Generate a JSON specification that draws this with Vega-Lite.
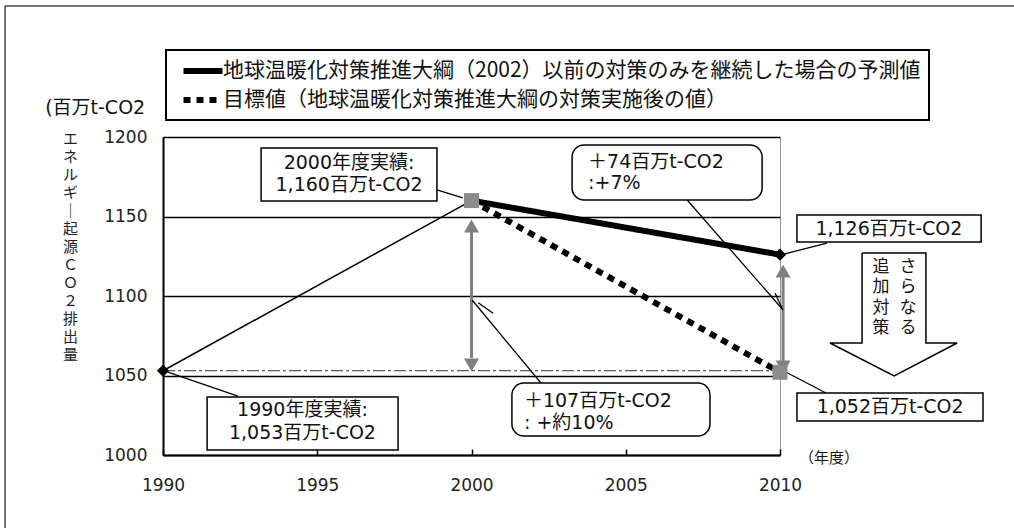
{
  "$schema": "https://vega.github.io/schema/vega-lite/v6.json",
  "width": 617,
  "height": 318,
  "autosize": "none",
  "padding": {"left": 163, "top": 137, "right": 234, "bottom": 73},
  "background": "white",
  "config": {
    "view": {"stroke": "#999999", "strokeWidth": 1},
    "font": "DejaVu Sans, Noto Sans CJK JP",
    "text": {"font": "DejaVu Sans, Noto Sans CJK JP", "color": "#111111"},
    "legend": {"strokeWidth": 2}
  },
  "encoding": {
    "x": {
      "field": "year", "type": "quantitative",
      "scale": {"domain": [1990, 2010], "nice": false, "zero": false},
      "axis": {
        "values": [1990, 1995, 2000, 2005, 2010], "format": "d", "title": null,
        "grid": false, "domainColor": "black", "domainWidth": 2,
        "ticks": true, "tickSize": -6, "tickColor": "black", "tickWidth": 1.5,
        "labelFont": "DejaVu Sans", "labelFontSize": 17, "labelColor": "#222222",
        "labelPadding": 28, "labelFlush": false, "labelOverlap": false
      }
    },
    "y": {
      "field": "value", "type": "quantitative",
      "scale": {"domain": [1000, 1200], "nice": false, "zero": false},
      "axis": {
        "values": [1000, 1050, 1100, 1150, 1200], "format": "d",
        "title": ["エ", "ネ", "ル", "ギ", "｜", "起", "源", "Ｃ", "Ｏ", "２", "排", "出", "量"],
        "titleAngle": 0, "titleAlign": "center", "titleBaseline": "top",
        "titleX": -93, "titleY": -6, "titleLineHeight": 18, "titleFontSize": 15,
        "titleFont": "Noto Sans CJK JP", "titleFontWeight": "normal", "titleColor": "#222222",
        "grid": true, "gridColor": "black", "gridWidth": 1.5,
        "domainColor": "black", "domainWidth": 2, "ticks": false,
        "labelFont": "DejaVu Sans", "labelFontSize": 17, "labelColor": "#222222",
        "labelPadding": 16, "labelFlush": false, "labelOverlap": false
      }
    }
  },
  "layer": [
    {
      "description": "page frame (left and top edges)",
      "data": {"values": [
        {"year": 1984.88, "year2": 1984.88, "value": 954.09, "value2": 1282.39},
        {"year": 1984.88, "year2": 2017.59, "value": 1282.39, "value2": 1282.39}
      ]},
      "mark": {"type": "rule", "color": "#444444", "strokeWidth": 1.5},
      "encoding": {"x2": {"field": "year2"}, "y2": {"field": "value2"}}
    },
    {
      "description": "1990 level reference line",
      "data": {"values": [{"year": 1990, "year2": 2010, "value": 1053}]},
      "mark": {"type": "rule", "color": "#333333", "strokeWidth": 1, "strokeDash": [12, 3, 3, 3]},
      "encoding": {"x2": {"field": "year2"}}
    },
    {
      "description": "1990 to 2000 actual",
      "data": {"values": [{"year": 1990, "value": 1053}, {"year": 2000, "value": 1160}]},
      "mark": {"type": "line", "color": "black", "strokeWidth": 1.5},
      "encoding": {}
    },
    {
      "description": "projection and target series",
      "data": {"values": [
        {"series": "地球温暖化対策推進大綱（2002）以前の対策のみを継続した場合の予測値", "year": 2000, "value": 1160},
        {"series": "地球温暖化対策推進大綱（2002）以前の対策のみを継続した場合の予測値", "year": 2010, "value": 1126},
        {"series": "目標値（地球温暖化対策推進大綱の対策実施後の値）", "year": 2000, "value": 1160},
        {"series": "目標値（地球温暖化対策推進大綱の対策実施後の値）", "year": 2010, "value": 1052}
      ]},
      "mark": {"type": "line", "strokeWidth": 6, "strokeCap": "butt"},
      "encoding": {
        "color": {
          "field": "series", "type": "nominal",
          "scale": {
            "domain": ["地球温暖化対策推進大綱（2002）以前の対策のみを継続した場合の予測値", "目標値（地球温暖化対策推進大綱の対策実施後の値）"],
            "range": ["black", "black"]
          },
          "legend": {
            "title": null, "orient": "none", "legendX": 3, "legendY": -87,
            "padding": 8, "strokeColor": "black", "symbolOffset": 16, "labelOffset": 7,
            "symbolType": "M-2,0H2", "symbolSize": 380, "symbolStrokeWidth": 6,
            "labelFont": "Noto Sans CJK JP", "labelFontSize": 21, "labelColor": "#111111",
            "labelLimit": 0, "rowPadding": 4
          }
        },
        "strokeDash": {
          "field": "series", "type": "nominal",
          "scale": {
            "domain": ["地球温暖化対策推進大綱（2002）以前の対策のみを継続した場合の予測値", "目標値（地球温暖化対策推進大綱の対策実施後の値）"],
            "range": [[1, 0], [7, 6]]
          },
          "legend": {
            "title": null, "orient": "none", "legendX": 3, "legendY": -87,
            "padding": 8, "strokeColor": "black", "symbolOffset": 16, "labelOffset": 7,
            "symbolType": "M-2,0H2", "symbolSize": 380, "symbolStrokeWidth": 6,
            "labelFont": "Noto Sans CJK JP", "labelFontSize": 21, "labelColor": "#111111",
            "labelLimit": 0, "rowPadding": 4
          }
        }
      }
    },
    {
      "description": "difference arrows: shafts",
      "data": {"values": [
        {"year": 2000, "value": 1061.01, "value2": 1140.25},
        {"year": 2010.1, "value": 1058.49, "value2": 1111.95}
      ]},
      "mark": {"type": "rule", "color": "#808080", "strokeWidth": 3},
      "encoding": {"y2": {"field": "value2"}}
    },
    {
      "description": "difference arrows: upper heads",
      "data": {"values": [{"year": 2000, "value": 1144.03}, {"year": 2010.1, "value": 1115.72}]},
      "mark": {"type": "point", "shape": "triangle-up", "size": 225, "filled": true, "color": "#808080", "opacity": 1},
      "encoding": {}
    },
    {
      "description": "difference arrows: lower heads",
      "data": {"values": [{"year": 2000, "value": 1056.6}, {"year": 2010.1, "value": 1055.35}]},
      "mark": {"type": "point", "shape": "triangle-down", "size": 225, "filled": true, "color": "#808080", "opacity": 1},
      "encoding": {}
    },
    {
      "description": "callout leader lines",
      "data": {"values": [
        {"year": 1998.88, "value": 1166.67, "year2": 1999.72, "value2": 1161.64},
        {"year": 1992.43, "value": 1037.1, "year2": 1990.06, "value2": 1052.8},
        {"year": 2002.25, "value": 1045.28, "year2": 2000.02, "value2": 1097.48},
        {"year": 2000.22, "value": 1095.8, "year2": 2000.7, "value2": 1089.1},
        {"year": 2006.99, "value": 1160.38, "year2": 2010.1, "value2": 1091.19},
        {"year": 2009.84, "value": 1101.9, "year2": 2010.06, "value2": 1092.5},
        {"year": 2011.52, "value": 1133.33, "year2": 2010.03, "value2": 1125.79},
        {"year": 2011.49, "value": 1038.99, "year2": 2010.0, "value2": 1054.09}
      ]},
      "mark": {"type": "rule", "color": "black", "strokeWidth": 1.3},
      "encoding": {"x2": {"field": "year2"}, "y2": {"field": "value2"}}
    },
    {
      "description": "square callout boxes",
      "data": {"values": [
        {"year": 1993.18, "year2": 1998.88, "value": 1159.75, "value2": 1193.08},
        {"year": 1991.43, "year2": 1997.62, "value": 1003.14, "value2": 1036.48},
        {"year": 2010.55, "year2": 2016.52, "value": 1133.96, "value2": 1150.94},
        {"year": 2010.55, "year2": 2016.58, "value": 1021.38, "value2": 1038.99}
      ]},
      "mark": {"type": "rect", "fill": "white", "stroke": "black", "strokeWidth": 1.5},
      "encoding": {"x2": {"field": "year2"}, "y2": {"field": "value2"}}
    },
    {
      "description": "rounded callout boxes",
      "data": {"values": [
        {"year": 2001.31, "year2": 2007.73, "value": 1011.95, "value2": 1045.28},
        {"year": 2003.26, "year2": 2009.42, "value": 1160.38, "value2": 1194.97}
      ]},
      "mark": {"type": "rect", "fill": "white", "stroke": "black", "strokeWidth": 1.5, "cornerRadius": 12},
      "encoding": {"x2": {"field": "year2"}, "y2": {"field": "value2"}}
    },
    {
      "description": "centred callout labels, one row per line",
      "data": {"values": [
        {"year": 1996.03, "value": 1183.65, "label": "2000年度実績:"},
        {"year": 1996.03, "value": 1169.81, "label": "1,160百万t-CO2"},
        {"year": 1994.52, "value": 1028.3, "label": "1990年度実績:"},
        {"year": 1994.52, "value": 1013.84, "label": "1,053百万t-CO2"},
        {"year": 2013.53, "value": 1142.45, "label": "1,126百万t-CO2"},
        {"year": 2013.57, "value": 1030.19, "label": "1,052百万t-CO2"}
      ]},
      "mark": {"type": "text", "align": "center", "baseline": "middle", "fontSize": 19},
      "encoding": {"text": {"field": "label"}}
    },
    {
      "description": "left-aligned callout labels, one row per line",
      "data": {"values": [
        {"year": 2001.7, "value": 1033.96, "label": "＋107百万t-CO2"},
        {"year": 2001.7, "value": 1020.13, "label": ": +約10%"},
        {"year": 2003.78, "value": 1184.47, "label": "＋74百万t-CO2"},
        {"year": 2003.78, "value": 1170.88, "label": ":+7%"}
      ]},
      "mark": {"type": "text", "align": "left", "baseline": "middle", "fontSize": 19},
      "encoding": {"text": {"field": "label"}}
    },
    {
      "description": "outline arrow for additional measures",
      "data": {"values": [
        {"i": 0, "year": 2012.66, "value": 1127.04},
        {"i": 1, "year": 2014.73, "value": 1127.04},
        {"i": 2, "year": 2014.73, "value": 1070.44},
        {"i": 3, "year": 2015.74, "value": 1070.44},
        {"i": 4, "year": 2013.70, "value": 1049.69},
        {"i": 5, "year": 2011.62, "value": 1070.44},
        {"i": 6, "year": 2012.66, "value": 1070.44},
        {"i": 7, "year": 2012.66, "value": 1127.04}
      ]},
      "mark": {"type": "line", "color": "black", "strokeWidth": 1.5, "strokeJoin": "miter"},
      "encoding": {"order": {"field": "i", "type": "quantitative"}}
    },
    {
      "description": "vertical text inside the arrow, one character per row",
      "data": {"values": [
        {"year": 2013.27, "value": 1118.24, "label": "追"},
        {"year": 2013.27, "value": 1105.66, "label": "加"},
        {"year": 2013.27, "value": 1092.45, "label": "対"},
        {"year": 2013.27, "value": 1079.87, "label": "策"},
        {"year": 2014.15, "value": 1118.24, "label": "さ"},
        {"year": 2014.15, "value": 1105.66, "label": "ら"},
        {"year": 2014.15, "value": 1092.45, "label": "な"},
        {"year": 2014.15, "value": 1079.87, "label": "る"}
      ]},
      "mark": {"type": "text", "align": "center", "baseline": "middle", "fontSize": 17, "font": "Noto Sans CJK JP"},
      "encoding": {"text": {"field": "label"}}
    },
    {
      "description": "unit label",
      "data": {"values": [{"year": 1986.18, "value": 1218.24, "label": "(百万t-CO2"}]},
      "mark": {"type": "text", "align": "left", "baseline": "middle", "fontSize": 19},
      "encoding": {"text": {"field": "label"}}
    },
    {
      "description": "fiscal year label",
      "data": {"values": [{"year": 2011.59, "value": 998.11, "label": "（年度）"}]},
      "mark": {"type": "text", "align": "center", "baseline": "middle", "fontSize": 15, "font": "Noto Sans CJK JP"},
      "encoding": {"text": {"field": "label"}}
    },
    {
      "description": "diamond markers",
      "data": {"values": [{"year": 1990, "value": 1053}, {"year": 2010, "value": 1126}]},
      "mark": {"type": "point", "shape": "diamond", "size": 150, "filled": true, "color": "black", "opacity": 1},
      "encoding": {}
    },
    {
      "description": "square markers",
      "data": {"values": [{"year": 2000, "value": 1160}, {"year": 2010, "value": 1052}]},
      "mark": {"type": "point", "shape": "square", "size": 225, "filled": true, "color": "#8a8a8a", "opacity": 1},
      "encoding": {}
    }
  ]
}
